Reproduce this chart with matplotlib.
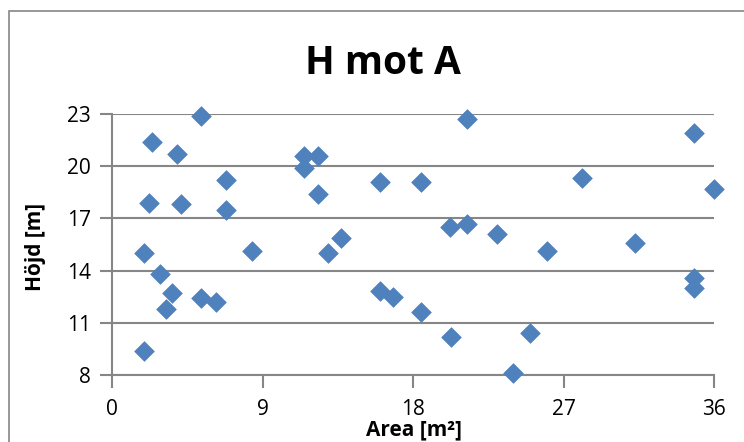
import matplotlib.pyplot as plt
from matplotlib.patches import Rectangle

# area [m2] and height [m]
area = [2.4, 5.3, 3.9, 2.2, 4.1, 6.8, 6.8, 1.9, 2.9, 3.6, 3.2, 5.3, 6.2, 1.9,
        8.4, 11.5, 11.5, 12.3, 12.3, 13.7, 12.9, 16.0, 16.0, 16.8, 18.5, 18.5,
        20.2, 21.2, 21.2, 20.3, 23.0, 24.0, 25.0, 26.0, 28.1, 31.3, 34.8,
        34.8, 34.8, 36.0]
height = [21.4, 22.9, 20.7, 17.9, 17.8, 19.2, 17.5, 15.0, 13.8, 12.7, 11.8,
          12.4, 12.2, 9.4, 15.1, 19.9, 20.6, 20.6, 18.4, 15.9, 15.0, 19.1,
          12.8, 12.5, 19.1, 11.6, 16.5, 16.7, 22.7, 10.2, 16.1, 8.1, 10.4,
          15.1, 19.3, 15.6, 21.9, 13.6, 13.0, 18.7]
xticks = [0, 9, 18, 27, 36]
yticks = [8, 11, 14, 17, 20, 23]

plt.rcParams['font.family'] = ['Open Sans', 'DejaVu Sans']
axis_col = '#868686'
blue = '#4F81BD'

fig = plt.figure(figsize=(7.44, 4.42), dpi=100)
# outer chart border
fig.patches.append(Rectangle((8.5 / 744, -0.05), 1.0, 1 - 10.5 / 442 + 0.05,
                             transform=fig.transFigure, fill=False,
                             edgecolor=axis_col, linewidth=1.2))

ax = fig.add_axes([112 / 744, 1 - 375 / 442, 602 / 744, 261 / 442])
ax.scatter(area, height, marker='D', s=100, color=blue, edgecolors=blue,
           linewidths=0.5, zorder=3, clip_on=False)

ax.set_xlim(0, 36)
ax.set_ylim(8, 23)
ax.set_xticks(xticks)
ax.set_yticks(yticks)
ax.grid(axis='y', color=axis_col, linewidth=1.5)
ax.set_axisbelow(True)
for s in ['top', 'right']:
    ax.spines[s].set_visible(False)
for s in ['left', 'bottom']:
    ax.spines[s].set_color(axis_col)
    ax.spines[s].set_linewidth(1.5)
ax.tick_params(axis='both', direction='out', length=9, width=1.5,
               color=axis_col, labelsize=15, pad=6)
ax.tick_params(axis='x', pad=8)

fig.text(383 / 744, 1 - 63 / 442, 'H mot A', ha='center', va='center',
         fontsize=28, fontweight='bold')
fig.text(414 / 744, 1 - 430 / 442, 'Area [m²]', ha='center', va='center',
         fontsize=15, fontweight='bold')
fig.text(35 / 744, 1 - 247 / 442, 'Höjd [m]', ha='center', va='center',
         fontsize=15, fontweight='bold', rotation=90)

fig.savefig('out.png', dpi=100)
